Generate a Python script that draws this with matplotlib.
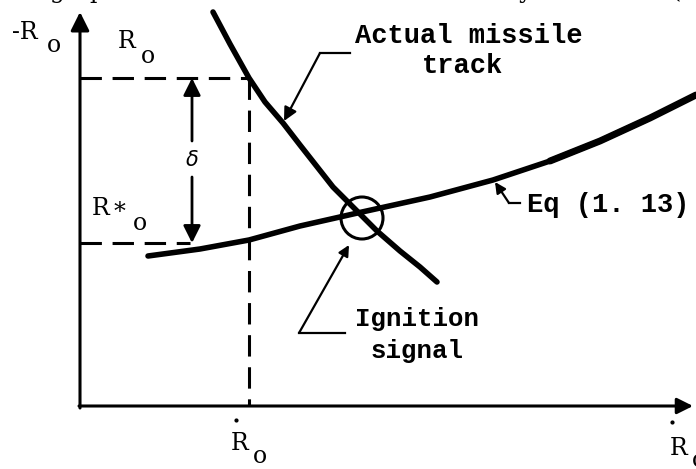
import matplotlib
matplotlib.use('Agg')
import matplotlib.pyplot as plt
from matplotlib.patches import Circle

# diagram drawn on a 696 x 469 canvas, y grows downward
W, H = 696, 469

# Eq (1.13) curve
eq_x = [148, 200, 249, 300, 362, 430, 493, 550, 600, 650, 696]
eq_y = [256, 249, 240, 226, 212, 197, 180, 161, 141, 118, 95]

# actual missile track
track_x = [213, 230, 249, 265, 283, 300, 333, 350, 365, 377, 400, 420, 437]
track_y = [12, 44, 78, 102, 123, 145, 187, 204, 219, 231, 251, 267, 282]

# guide levels
y_top = 78        # R_o
y_star = 243      # R*_o
x_rdot = 249      # R-dot_o
axis_x0, axis_y0 = 80, 406
ign_center = (362, 218)

fig = plt.figure(figsize=(W / 100, H / 100), dpi=100)
ax = fig.add_axes([0, 0, 1, 1])
ax.set_xlim(0, W)
ax.set_ylim(H, 0)
ax.axis('off')

MONO = 'Liberation Mono'
SERIF = 'DejaVu Serif'
arrow_kw = dict(arrowstyle='-|>', color='k', lw=1.6, shrinkA=0, shrinkB=0)

# axes with arrows
ax.annotate('', xy=(axis_x0, 12), xytext=(axis_x0, axis_y0 + 2),
            arrowprops=dict(arrow_kw, lw=2.2, mutation_scale=28))
ax.annotate('', xy=(693, axis_y0), xytext=(axis_x0 - 1, axis_y0),
            arrowprops=dict(arrow_kw, lw=2.2, mutation_scale=24))

# dashed guides
dash = dict(color='k', lw=2.2, dashes=(7, 3.5))
ax.plot([axis_x0, x_rdot], [y_top, y_top], **dash)
ax.plot([x_rdot, x_rdot], [y_top, axis_y0], **dash)
ax.plot([axis_x0, 190], [y_star, y_star], **dash)

# delta dimension
ax.annotate('', xy=(192, y_top), xytext=(192, 141),
            arrowprops=dict(arrow_kw, lw=2.0, mutation_scale=26))
ax.annotate('', xy=(192, y_star), xytext=(192, 177),
            arrowprops=dict(arrow_kw, lw=2.0, mutation_scale=26))
ax.text(192, 160, r'$\delta$', ha='center', va='center', fontsize=15)

# curves
ax.plot(eq_x, eq_y, color='k', lw=4.0, solid_capstyle='round')
ax.plot(eq_x[-4:], eq_y[-4:], color='k', lw=5.0, solid_capstyle='round')
ax.plot(track_x, track_y, color='k', lw=4.0, solid_capstyle='round')
ax.add_patch(Circle(ign_center, 21, fill=False, lw=2.2, ec='k'))

# leaders
ax.plot([350, 320], [53, 53], color='k', lw=1.6)
ax.annotate('', xy=(284, 121), xytext=(320, 53),
            arrowprops=dict(arrow_kw, mutation_scale=20))
ax.plot([520, 509], [203, 203], color='k', lw=1.6)
ax.annotate('', xy=(495, 182), xytext=(509, 203),
            arrowprops=dict(arrow_kw, mutation_scale=16))
ax.plot([345, 299], [333, 333], color='k', lw=1.6)
ax.annotate('', xy=(349, 245), xytext=(299, 333),
            arrowprops=dict(arrow_kw, mutation_scale=16))

# annotations, typewriter style
note = dict(ha='center', va='baseline', fontsize=19.5, family=MONO,
            fontweight='bold', color='k')
ax.text(469, 43, 'Actual missile', **note)
ax.text(463, 73, 'track', **note)
ax.text(608, 212, 'Eq (1. 13)', **note)
ax.text(417, 326, 'Ignition', **dict(note, fontsize=18.5))
ax.text(417, 358, 'signal', **dict(note, fontsize=18.5))

# descenders of the line of text above the figure
for cx, ch in [(57, 'g'), (97, 'p'), (526, 'y'), (676, '(')]:
    ax.text(cx, -2, ch, ha='center', va='baseline', fontsize=17,
            family=SERIF, color='k')

# axis and level labels, subscripts set as separate glyphs
lbl = dict(ha='center', va='baseline', fontsize=17, family=SERIF, color='k')
ax.text(25, 39, '-R', **lbl)
ax.text(54, 52, 'o', **lbl)
ax.text(127, 48, 'R', **lbl)
ax.text(148, 63, 'o', **lbl)
ax.text(101, 215, 'R', **lbl)
ax.text(120, 219, '*', **lbl)
ax.text(140, 230, 'o', **lbl)

ax.text(240, 450, 'R', **lbl)
ax.text(260, 463, 'o', **lbl)
ax.plot([236], [420], 'k.', ms=4)
ax.text(679, 455, 'R', **lbl)
ax.text(699, 467, 'o', **lbl)
ax.plot([672], [422], 'k.', ms=4)

fig.savefig('out.png', dpi=100)
